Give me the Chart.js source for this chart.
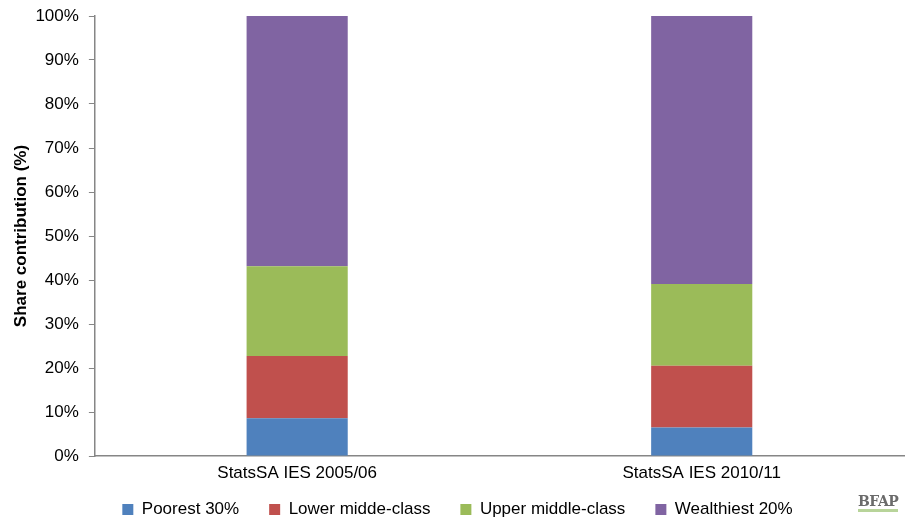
<!DOCTYPE html>
<html>
<head>
<meta charset="utf-8">
<script src="https://cdn.jsdelivr.net/npm/chart.js@4.4.1/dist/chart.umd.min.js"></script>
<style>
  body { margin: 0; background: #fff; }
  #wrap { position: relative; width: 905px; height: 519px; }
  #logo {
    position: absolute; left: 858px; top: 493px;
    font: bold 14px "DejaVu Serif", serif; color: #6b6b6b;
    letter-spacing: -0.5px; border-bottom: 3px solid #b8d49a;
  }
</style>
</head>
<body>
<div id="wrap">
  <canvas id="chart"></canvas>
  <div id="logo">BFAP</div>
</div>
<script>
'use strict';

const surveys = ['StatsSA IES 2005/06', 'StatsSA IES 2010/11'];
const poorest = [8.6, 6.5];
const lowerMiddle = [14.1, 14.0];
const upperMiddle = [20.4, 18.6];
const wealthiest = [56.9, 60.9];
const yTicks = [0, 10, 20, 30, 40, 50, 60, 70, 80, 90, 100];

const axisGrey = '#868686';
const font = { family: 'Liberation Sans, Arial, sans-serif', size: 17 };
const legendHeight = 48;

let canvasElem = document.getElementById('chart');

// the legend's padding also spaces the items apart, so cap its height
const legendHeightPlugin = {
    id: 'legendHeight',
    beforeUpdate(chart) {
        const lg = chart.legend;
        if (lg && !lg._capped) {
            const fit = lg.fit;
            lg.fit = function () {
                fit.call(this);
                this.height = legendHeight;
            };
            lg._capped = true;
        }
    }
};

function renderChart() {
    let chart = {
        type: 'bar',
        data: {
            labels: surveys,
            datasets: [
                { label: 'Poorest 30%', data: poorest, backgroundColor: '#4F81BD' },
                { label: 'Lower midde-class', data: lowerMiddle, backgroundColor: '#C0504D' },
                { label: 'Upper middle-class', data: upperMiddle, backgroundColor: '#9BBB59' },
                { label: 'Wealthiest 20%', data: wealthiest, backgroundColor: '#8064A2' }
            ]
        },
        options: {
            responsive: true,
            maintainAspectRatio: false,
            animation: false,
            datasets: { bar: { categoryPercentage: 0.5, barPercentage: 0.5 } },
            layout: { padding: { top: 16, right: 1, left: 11, bottom: 0 } },
            plugins: {
                tooltip: { enabled: false },
                legend: {
                    position: 'bottom',
                    labels: {
                        boxWidth: 11,
                        boxHeight: 11,
                        padding: 30,
                        color: '#000',
                        font: font
                    }
                }
            },
            scales: {
                x: {
                    stacked: true,
                    grid: { display: false, drawTicks: false },
                    border: { color: axisGrey, width: 1.5 },
                    ticks: { color: '#000', font: font, padding: 7 },
                    afterFit: (axis) => {
                        // labels hang into the legend band, so don't clip them to the axis box
                        axis.height = 15;
                        axis._computeLabelArea = () => undefined;
                    }
                },
                y: {
                    stacked: true,
                    min: 0,
                    max: 100,
                    afterBuildTicks: (axis) => { axis.ticks = yTicks.map(v => ({ value: v })); },
                    afterFit: (axis) => {
                        axis.paddingTop = 0;
                        axis.paddingBottom = 0;
                    },
                    grid: { drawOnChartArea: false, drawTicks: true, tickLength: 6, color: axisGrey },
                    border: { color: axisGrey, width: 1.5 },
                    ticks: { color: '#000', font: font, padding: 10, callback: v => v + '%' },
                    title: {
                        display: true,
                        text: 'Share contribution (%)',
                        color: '#000',
                        font: { family: font.family, size: 17, weight: 'bold' },
                        padding: { top: 0, bottom: -6 }
                    }
                }
            }
        },
        plugins: [legendHeightPlugin]
    };
    new Chart(canvasElem, chart);
}

renderChart();
</script>
</body>
</html>
